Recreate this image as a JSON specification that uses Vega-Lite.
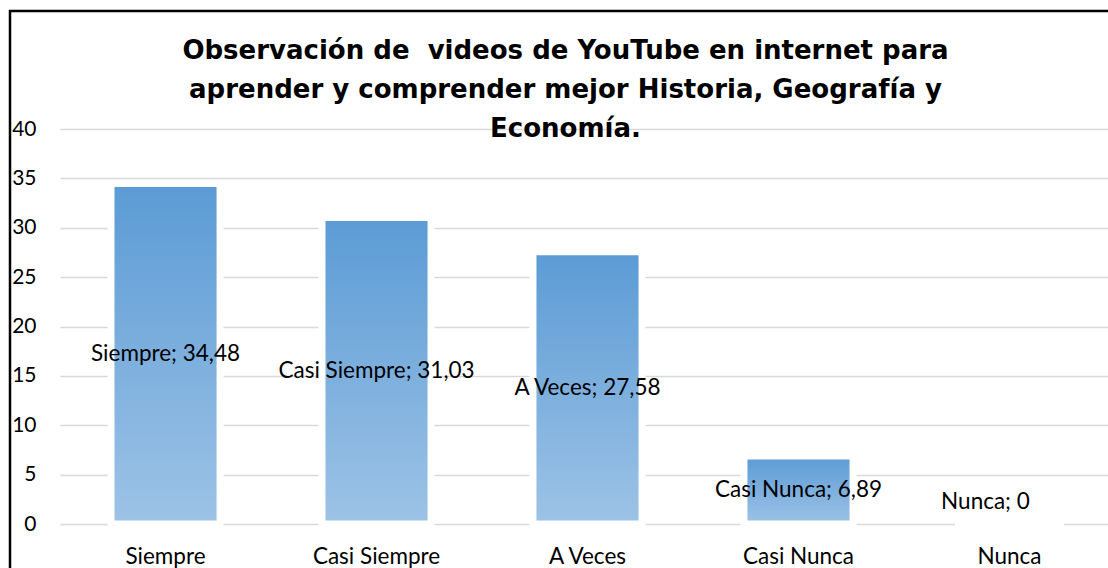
{
  "$schema": "https://vega.github.io/schema/vega-lite/v6.json",
  "width": 1157,
  "height": 560,
  "autosize": {"type": "none"},
  "padding": {"left": 10, "top": 11, "right": 0, "bottom": 0},
  "background": "white",
  "config": {"view": {"stroke": "black", "strokeWidth": 2.5}, "font": "Lato"},
  "title": {
    "text": ["Observación de \u00a0videos de YouTube en internet para", "aprender y comprender mejor Historia, Geografía y", "Economía."],
    "font": "DejaVu Sans",
    "fontSize": 26,
    "fontWeight": "bold",
    "lineHeight": 39,
    "anchor": "middle",
    "frame": "group",
    "baseline": "top",
    "offset": -131,
    "dx": -23,
    "color": "black"
  },
  "data": {
    "values": [
      {"categoria": "Siempre", "valor": 34.48, "etiqueta": "Siempre; 34,48"},
      {"categoria": "Casi Siempre", "valor": 31.03, "etiqueta": "Casi Siempre; 31,03"},
      {"categoria": "A Veces", "valor": 27.58, "etiqueta": "A Veces; 27,58"},
      {"categoria": "Casi Nunca", "valor": 6.89, "etiqueta": "Casi Nunca; 6,89"},
      {"categoria": "Nunca", "valor": 0, "etiqueta": "Nunca; 0"}
    ]
  },
  "layer": [
    {
      "mark": {
        "type": "bar",
        "color": {
          "gradient": "linear",
          "x1": 0, "y1": 0, "x2": 0, "y2": 1,
          "stops": [
            {"offset": 0, "color": "#5B9BD5"},
            {"offset": 1, "color": "#9DC3E6"}
          ]
        },
        "stroke": "white",
        "strokeWidth": 7
      },
      "encoding": {
        "x": {
          "field": "categoria",
          "type": "nominal",
          "sort": null,
          "scale": {"range": [50, 1105], "paddingInner": 0.483, "paddingOuter": 0.2417},
          "axis": {
            "orient": "bottom",
            "offset": -47,
            "domain": false,
            "ticks": false,
            "grid": false,
            "labelPadding": 21,
            "labelFontSize": 22.5,
            "labelFont": "Lato",
            "labelColor": "black",
            "labelAngle": 0,
            "title": null
          }
        },
        "y": {
          "field": "valor",
          "type": "quantitative",
          "scale": {"domain": [0, 40], "range": [513, 118], "nice": false},
          "axis": {
            "values": [0, 5, 10, 15, 20, 25, 30, 35, 40],
            "domain": false,
            "ticks": false,
            "offset": -50,
            "labelPadding": 24,
            "labelFontSize": 21,
            "labelFont": "Lato",
            "labelColor": "black",
            "gridColor": "#d9d9d9",
            "gridWidth": 1.3,
            "title": null
          }
        }
      }
    },
    {
      "layer": [
        {
          "transform": [{"filter": "datum.valor > 0"}],
          "mark": {"type": "text", "fontSize": 22.5, "font": "Lato", "color": "black"},
          "encoding": {
            "x": {"field": "categoria", "type": "nominal", "sort": null},
            "y": {"field": "valor", "type": "quantitative", "scale": {"domain": [0, 80], "range": [513, 118], "nice": false}, "axis": null},
            "text": {"field": "etiqueta"}
          }
        },
        {
          "transform": [{"filter": "datum.valor == 0"}],
          "mark": {"type": "text", "fontSize": 22.5, "font": "Lato", "color": "black", "dx": -24, "dy": -22},
          "encoding": {
            "x": {"field": "categoria", "type": "nominal", "sort": null},
            "y": {"field": "valor", "type": "quantitative", "scale": {"domain": [0, 80], "range": [513, 118], "nice": false}, "axis": null},
            "text": {"field": "etiqueta"}
          }
        }
      ]
    }
  ],
  "resolve": {"scale": {"y": "independent"}}
}
